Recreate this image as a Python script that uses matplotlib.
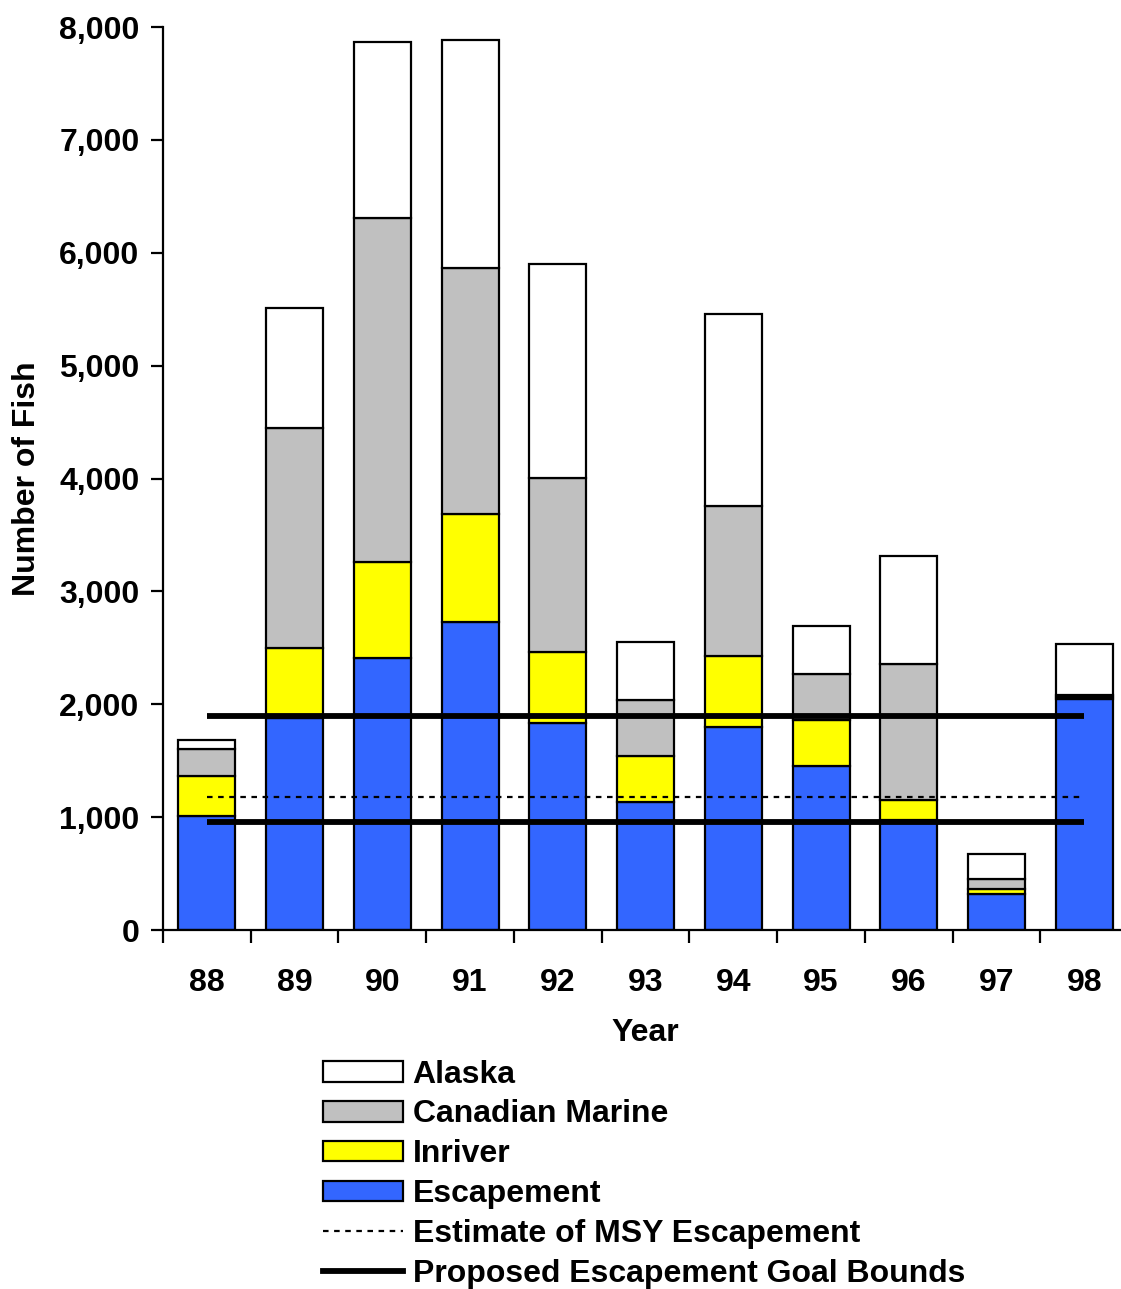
import matplotlib.pyplot as plt
from matplotlib.patches import Patch
from matplotlib.lines import Line2D
from matplotlib.ticker import FuncFormatter

plt.rcParams['font.family'] = ['Liberation Sans', 'DejaVu Sans']
plt.rcParams['font.weight'] = 'bold'

years = ['88', '89', '90', '91', '92', '93', '94', '95', '96', '97', '98']
escapement = [1010, 1880, 2410, 2730, 1835, 1135, 1795, 1455, 975, 320, 2045]
inriver = [355, 620, 850, 955, 630, 405, 630, 405, 180, 45, 20]
canadian_marine = [235, 1950, 3045, 2180, 1540, 500, 1330, 410, 1200, 90, 20]
alaska = [85, 1060, 1560, 2020, 1895, 510, 1700, 425, 955, 220, 450]

msy_escapement = 1175
goal_bounds = [955, 1895]

fs = 23
x = range(len(years))
fig = plt.figure(figsize=(11.21, 12.89), dpi=100)
ax = fig.add_axes([0.1454, 0.2785, 0.861, 0.7005])

edge = dict(edgecolor='black', linewidth=1.6, width=0.65)
b1 = escapement
b2 = [a + b for a, b in zip(b1, inriver)]
b3 = [a + b for a, b in zip(b2, canadian_marine)]
ax.bar(x, escapement, color='#3366ff', **edge, zorder=2)
ax.bar(x, inriver, bottom=b1, color='#ffff00', **edge, zorder=2)
ax.bar(x, canadian_marine, bottom=b2, color='#c0c0c0', **edge, zorder=2)
ax.bar(x, alaska, bottom=b3, color='white', **edge, zorder=2)

# reference lines across the bars
ax.plot([0, len(years) - 1], [msy_escapement] * 2, color='black', lw=1.6,
        linestyle=(0, (2.5, 2.5)), zorder=3)
for g in goal_bounds:
    ax.plot([0, len(years) - 1], [g, g], color='black', lw=4.2,
            solid_capstyle='butt', zorder=3)

ax.set_xlim(-0.5, len(years) - 0.5)
ax.set_ylim(0, 8000)
ax.set_yticks(range(0, 8001, 1000))
ax.yaxis.set_major_formatter(FuncFormatter(lambda v, p: f'{int(v):,}'))
ax.set_xticks(list(x))
ax.set_xticklabels(years)
ax.set_xticks([i + 0.5 for i in range(-1, len(years))], minor=True)
ax.tick_params(axis='x', which='major', length=0, pad=27, labelsize=fs)
ax.tick_params(axis='x', which='minor', length=9, width=1.6, direction='out')
ax.tick_params(axis='y', length=9, width=1.6, direction='out', pad=8,
               labelsize=fs)
for s in ['top', 'right']:
    ax.spines[s].set_visible(False)
for s in ['left', 'bottom']:
    ax.spines[s].set_linewidth(1.6)

ax.set_xlabel('Year', fontsize=fs, fontweight='bold', labelpad=15)
ax.set_ylabel('Number of Fish', fontsize=fs, fontweight='bold', labelpad=12)

handles = [
    Patch(facecolor='white', edgecolor='black', linewidth=1.6),
    Patch(facecolor='#c0c0c0', edgecolor='black', linewidth=1.6),
    Patch(facecolor='#ffff00', edgecolor='black', linewidth=1.6),
    Patch(facecolor='#3366ff', edgecolor='black', linewidth=1.6),
    Line2D([], [], color='black', lw=1.6, linestyle=(0, (2.5, 2.5))),
    Line2D([], [], color='black', lw=4.2),
]
labels = ['Alaska', 'Canadian Marine', 'Inriver', 'Escapement',
          'Estimate of MSY Escapement', 'Proposed Escapement Goal Bounds']
fig.legend(handles, labels, loc='upper left', bbox_to_anchor=(0.288, 0.178),
           frameon=False, fontsize=fs, handlelength=2.5, handleheight=0.62,
           handletextpad=0.31, labelspacing=0.31, borderpad=0, borderaxespad=0)

fig.savefig('out.png', dpi=100)
